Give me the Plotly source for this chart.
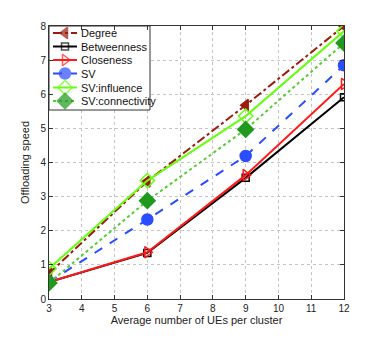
import plotly.graph_objects as go

# average number of UEs per cluster
ues = [3, 6, 9, 12]

degree = [0.75, 3.45, 5.68, 8.0]
betweenness = [0.5, 1.35, 3.55, 5.91]
closeness = [0.5, 1.37, 3.63, 6.3]
sv = [0.5, 2.33, 4.19, 6.85]
sv_influence = [0.89, 3.47, 5.36, 7.85]
sv_connectivity = [0.47, 2.88, 4.97, 7.5]

names = ['Degree', 'Betweenness', 'Closeness', 'SV', 'SV:influence', 'SV:connectivity']

xticks = [3, 4, 5, 6, 7, 8, 9, 10, 11, 12]
yticks = [0, 1, 2, 3, 4, 5, 6, 7, 8]

# line color, dash, marker symbol, marker size, marker color
styles = [
    ('#9b1c0c', 'dashdot', 'triangle-left', 10, '#9b1c0c'),
    ('black', 'solid', 'square-open', 7, 'black'),
    ('#ff1a1a', 'solid', 'triangle-right-open', 10, '#ff1a1a'),
    ('#2a4dff', 'dash', 'circle', 11, '#2a4dff'),
    ('#66ff11', 'solid', 'diamond-open', 11, '#66ff11'),
    ('#55cc33', 'dot', 'diamond', 12, '#1f9a1f'),
]
series = [degree, betweenness, closeness, sv, sv_influence, sv_connectivity]

fig = go.Figure()

for y, name, (lc, dash, sym, size, mc) in zip(series, names, styles):
    fig.add_trace(go.Scatter(
        x=ues, y=y, name=name, mode='lines+markers', showlegend=False,
        line=dict(color=lc, width=2, dash=dash),
        marker=dict(symbol=sym, size=size, color=mc, line=dict(color=mc, width=1.5)),
    ))

# hand-drawn legend on an overlay axis measured in page pixels
box_x = [49, 150, 150, 49, 49]
box_y = [26, 26, 110, 110, 26]
fig.add_trace(go.Scatter(
    x=box_x, y=box_y, xaxis='x2', yaxis='y2', mode='lines', fill='toself',
    fillcolor='white', line=dict(color='#333', width=1),
    showlegend=False, hoverinfo='skip',
))

leg_y = [33, 46.5, 60, 73.5, 87.5, 101]
for ly, name, (lc, dash, sym, size, mc) in zip(leg_y, names, styles):
    fig.add_trace(go.Scatter(
        x=[53, 65, 77], y=[ly, ly, ly], mode='lines+markers', showlegend=False,
        xaxis='x2', yaxis='y2', hoverinfo='skip',
        line=dict(color=lc, width=2, dash=dash),
        marker=dict(symbol=sym, size=[0, size, 0], color=mc,
                    line=dict(color=mc, width=[0, 1.5, 0])),
    ))
    fig.add_annotation(x=79, y=ly, xref='x2', yref='y2', text=name,
                       showarrow=False, xanchor='left', yanchor='middle',
                       font=dict(size=11, color='#111'))

axis_style = dict(
    showline=True, linecolor='#333', linewidth=1, mirror='ticks',
    ticks='inside', ticklen=4, tickcolor='#333',
    showgrid=True, gridcolor='#c4c4c4', griddash='dot', gridwidth=1,
    zeroline=False, tickfont=dict(size=10, color='#222'),
)

fig.update_layout(
    width=365, height=326,
    margin=dict(l=41, r=29, t=18, b=35),
    paper_bgcolor='white', plot_bgcolor='white',
    font=dict(family='Liberation Sans, Arial', size=11, color='#222'),
    xaxis=dict(axis_style, range=[3, 12], tickvals=xticks,
               title=dict(text='Average number of UEs per cluster',
                          font=dict(size=11), standoff=0)),
    yaxis=dict(axis_style, range=[0, 8], tickvals=yticks,
               title=dict(text='Offloading speed', font=dict(size=11),
                          standoff=8)),
    xaxis2=dict(overlaying='x', range=[49, 344], visible=False, fixedrange=True),
    yaxis2=dict(overlaying='y', range=[299, 26], visible=False, fixedrange=True),
    showlegend=False,
)

fig.write_html("out.html")
